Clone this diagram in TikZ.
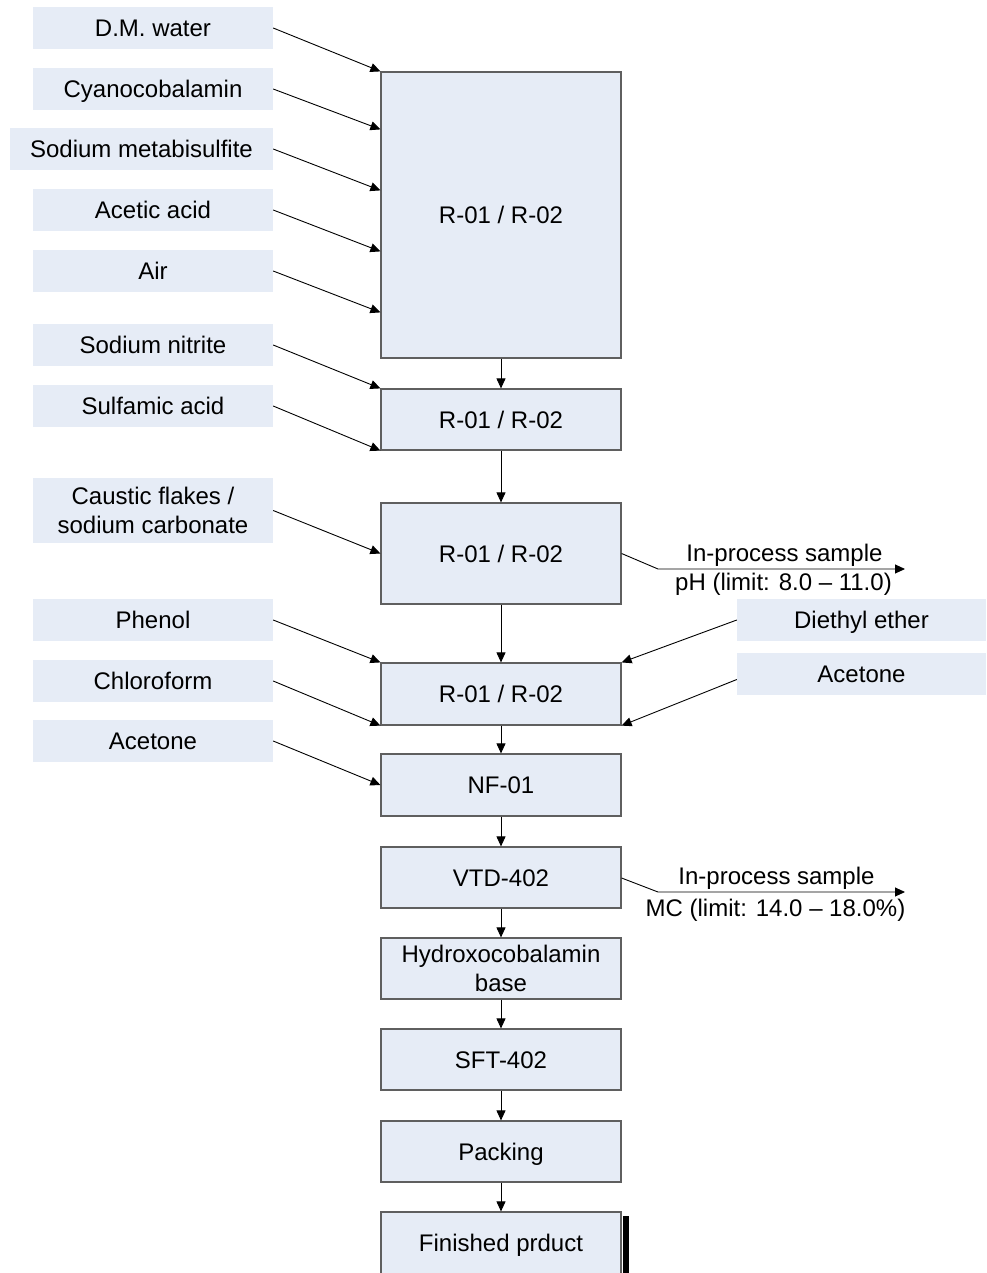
\documentclass[tikz,border=0pt]{standalone}
\usepackage{fontspec}
\setmainfont{Liberation Sans}
\usetikzlibrary{arrows.meta,calc}
\definecolor{boxfill}{RGB}{230,236,246}
\definecolor{boxline}{RGB}{95,95,95}
\begin{document}
\begin{tikzpicture}[x=1pt,y=-1pt,
  every node/.style={font=\fontsize{24}{28.5}\selectfont, inner sep=0pt, align=center, text height=17pt, text depth=0pt},
  twoline/.style={text height=45.5pt, text depth=0pt},
  inbox/.style={fill=boxfill, minimum width=240pt, minimum height=42pt},
  proc/.style={fill=boxfill, draw=boxline, line width=1.2pt, minimum width=240pt, minimum height=61pt},
  arr/.style={-{Triangle[length=10pt,width=9pt]}, line width=0.9pt}]
\clip (0,0) rectangle (986,1273);
\fill[white] (0,0) rectangle (986,1273);

% process boxes
\node[proc, minimum height=286pt] (r1) at (501,215) {R-01 / R-02};
\node[proc] (r2) at (501,419.5) {R-01 / R-02};
\node[proc, minimum height=101pt] (r3) at (501,553.5) {R-01 / R-02};
\node[proc, minimum height=62pt] (r4) at (501,694) {R-01 / R-02};
\node[proc, minimum height=62pt] (nf) at (501,785) {NF-01};
\node[proc] (vtd) at (501,877.5) {VTD-402};
\node[proc, twoline] (hy) at (501,968.5) {Hydroxocobalamin\\base};
\node[proc] (sft) at (501,1059.5) {SFT-402};
\node[proc] (pk) at (501,1151.5) {Packing};
\node[proc, minimum height=62pt] (fp) at (501,1243) {Finished prduct};
\fill ([xshift=1pt,yshift=-5pt]fp.north east) rectangle ([xshift=7pt]fp.south east);

% input boxes
\node[inbox] (dm) at (153,28) {D.M. water};
\node[inbox] (cy) at (153,89) {Cyanocobalamin};
\node[inbox, minimum width=263pt] (sm) at (141.5,149) {Sodium metabisulfite};
\node[inbox] (aa) at (153,210) {Acetic acid};
\node[inbox] (air) at (153,271) {Air};
\node[inbox] (sn) at (153,345) {Sodium nitrite};
\node[inbox] (sa) at (153,406) {Sulfamic acid};
\node[inbox, twoline, minimum height=65pt] (cf) at (153,510.5) {Caustic flakes /\\sodium carbonate};
\node[inbox] (ph) at (153,620) {Phenol};
\node[inbox] (ch) at (153,681) {Chloroform};
\node[inbox] (ac1) at (153,741) {Acetone};
\node[inbox, minimum width=249pt] (de) at (861.5,620) {Diethyl ether};
\node[inbox, minimum width=249pt] (ac2) at (861.5,673.5) {Acetone};

% main flow
\draw[arr] (r1) -- (r2);
\draw[arr] (r2) -- (r3);
\draw[arr] (r3) -- (r4);
\draw[arr] (r4) -- (nf);
\draw[arr] (nf) -- (vtd);
\draw[arr] (vtd) -- (hy);
\draw[arr] (hy) -- (sft);
\draw[arr] (sft) -- (pk);
\draw[arr] (pk) -- (fp);

% inputs
\draw[arr] (dm.east) -- (r1.north west);
\draw[arr] (cy.east) -- ([yshift=-58pt]r1.north west);
\draw[arr] (sm.east) -- ([yshift=-119pt]r1.north west);
\draw[arr] (aa.east) -- ([yshift=-180pt]r1.north west);
\draw[arr] (air.east) -- ([yshift=-241pt]r1.north west);
\draw[arr] (sn.east) -- (r2.north west);
\draw[arr] (sa.east) -- (r2.south west);
\draw[arr] (cf.east) -- (r3.west);
\draw[arr] (ph.east) -- (r4.north west);
\draw[arr] (ch.east) -- (r4.south west);
\draw[arr] (ac1.east) -- (nf.west);
\draw[arr] (de.west) -- (r4.north east);
\draw[arr] ([yshift=-6pt]ac2.west) -- (r4.south east);

% samples
\coordinate (k1) at (658,569);
\coordinate (e1) at (905,569);
\draw[arr] (r3.east) -- (k1) -- (e1);
\node (s1a) at (784.5,553) {In-process sample};
\node (s1b) at (783.5,582) {pH (limit: 8.0 -- 11.0)};

\coordinate (k2) at (658,892);
\coordinate (e2) at (905,892);
\draw[arr] ([yshift=-0.5pt]vtd.east) -- (k2) -- (e2);
\node (s2a) at (776.5,875.5) {In-process sample};
\node (s2b) at (775.5,907.5) {MC (limit: 14.0 -- 18.0\%)};
\end{tikzpicture}
\end{document}
